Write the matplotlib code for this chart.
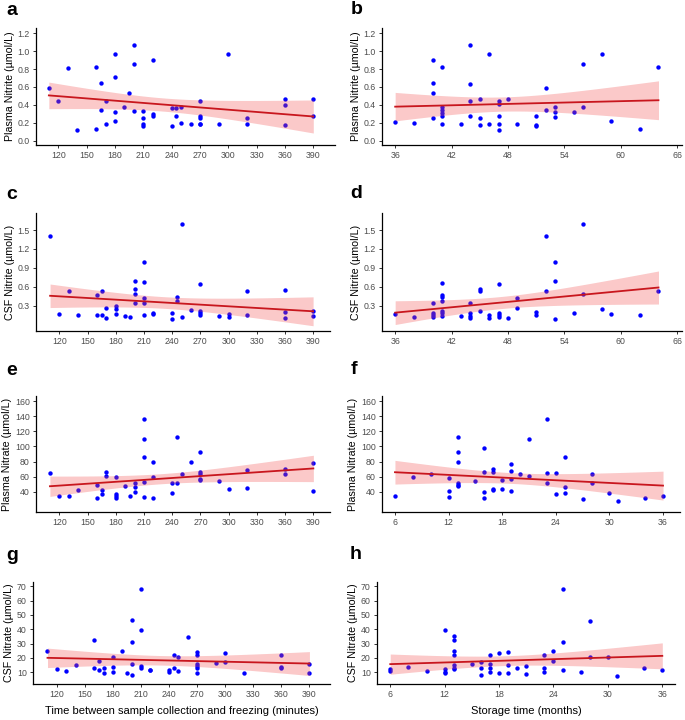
import numpy as np
import matplotlib
matplotlib.use('Agg')
import matplotlib.pyplot as plt

plt.rcParams['font.family'] = ['Liberation Sans', 'DejaVu Sans']

# ---- data ----
# a: plasma nitrite vs time to freezing
a_x = [110, 120, 130, 140, 160, 160, 165, 165, 170, 170, 180, 180, 180, 180, 190, 195,
       200, 200, 200, 210, 210, 210, 210, 220, 220, 220, 240, 240, 245, 245, 250, 250,
       260, 270, 270, 270, 270, 270, 290, 300, 320, 320, 360, 360, 360, 390, 390]
a_y = [0.59, 0.44, 0.81, 0.12, 0.82, 0.13, 0.64, 0.34, 0.19, 0.44, 0.97, 0.71, 0.32, 0.22,
       0.38, 0.53, 1.07, 0.86, 0.33, 0.33, 0.25, 0.19, 0.16, 0.90, 0.30, 0.28, 0.36, 0.16,
       0.36, 0.28, 0.38, 0.20, 0.18, 0.44, 0.28, 0.25, 0.19, 0.18, 0.18, 0.97, 0.25, 0.18,
       0.47, 0.40, 0.17, 0.47, 0.28]

# b: plasma nitrite vs storage time
b_x = [36, 38, 40, 40, 40, 40, 41, 41, 41, 41, 41, 41, 43, 44, 44, 44, 44, 45, 45, 45,
       46, 46, 47, 47, 47, 47, 47, 48, 49, 51, 51, 51, 52, 52, 53, 53, 53, 55, 56, 56,
       58, 59, 62, 64]
b_y = [0.21, 0.20, 0.90, 0.64, 0.53, 0.25, 0.82, 0.38, 0.34, 0.31, 0.28, 0.19, 0.18, 1.07,
       0.63, 0.44, 0.28, 0.47, 0.25, 0.17, 0.97, 0.18, 0.44, 0.41, 0.28, 0.18, 0.12, 0.47,
       0.19, 0.28, 0.17, 0.16, 0.59, 0.34, 0.37, 0.32, 0.26, 0.32, 0.86, 0.38, 0.97, 0.22,
       0.13, 0.82]

# c: CSF nitrite vs time to freezing
c_x = [110, 120, 130, 140, 160, 160, 165, 165, 170, 170, 180, 180, 180, 190, 195, 200,
       200, 200, 200, 210, 210, 210, 210, 210, 220, 220, 240, 240, 245, 245, 250, 250,
       260, 270, 270, 270, 270, 290, 300, 300, 320, 320, 360, 360, 360, 390, 390]
c_y = [1.40, 0.175, 0.53, 0.15, 0.47, 0.15, 0.53, 0.15, 0.11, 0.26, 0.30, 0.25, 0.175,
       0.14, 0.12, 0.69, 0.56, 0.48, 0.34, 1.00, 0.67, 0.43, 0.34, 0.16, 0.19, 0.17, 0.19,
       0.095, 0.44, 0.375, 1.59, 0.12, 0.23, 0.64, 0.22, 0.185, 0.15, 0.13, 0.17, 0.12,
       0.53, 0.16, 0.55, 0.20, 0.11, 0.22, 0.13]

# d: CSF nitrite vs storage time
d_x = [36, 38, 40, 40, 40, 40, 41, 41, 41, 41, 41, 41, 41, 43, 44, 44, 44, 44, 45, 45,
       45, 46, 46, 47, 47, 47, 47, 48, 49, 49, 51, 51, 52, 52, 53, 53, 53, 55, 56, 56,
       58, 59, 62, 64]
d_y = [0.175, 0.12, 0.35, 0.19, 0.15, 0.12, 0.66, 0.47, 0.44, 0.375, 0.22, 0.18, 0.14,
       0.13, 0.34, 0.18, 0.14, 0.11, 0.56, 0.53, 0.22, 0.16, 0.11, 0.64, 0.19, 0.15, 0.12,
       0.11, 0.43, 0.26, 0.20, 0.16, 1.40, 0.53, 1.00, 0.69, 0.095, 0.18, 1.59, 0.48, 0.25,
       0.17, 0.15, 0.53]

# e: plasma nitrate vs time to freezing
e_x = [110, 120, 130, 140, 160, 160, 165, 165, 170, 170, 180, 180, 180, 180, 190, 195,
       200, 200, 200, 210, 210, 210, 210, 210, 220, 220, 220, 240, 240, 245, 245, 250,
       260, 270, 270, 270, 270, 270, 290, 300, 320, 320, 360, 360, 390, 390]
e_y = [65, 34, 34, 42, 32, 49, 42, 37, 66, 61, 59, 37, 34, 31, 48, 34, 52, 46, 40, 136,
       110, 86, 53, 33, 79, 59, 32, 38, 52, 112, 51, 64, 80, 92, 66, 64, 57, 55, 54, 44,
       69, 45, 70, 64, 78, 41]

# f: plasma nitrate vs storage time
f_x = [6, 8, 10, 12, 12, 12, 13, 13, 13, 13, 13, 13, 15, 16, 16, 16, 16, 17, 17, 17, 17,
       18, 18, 19, 19, 19, 19, 20, 21, 21, 23, 23, 23, 24, 24, 25, 25, 25, 27, 28, 28,
       30, 31, 34, 36]
f_y = [34, 59, 64, 58, 41, 33, 112, 92, 79, 52, 49, 47, 54, 98, 66, 40, 32, 70, 66, 44,
       42, 55, 43, 77, 68, 57, 41, 64, 110, 61, 136, 65, 51, 65, 37, 86, 46, 38, 30, 64,
       52, 38, 28, 31, 34]

# g: CSF nitrate vs time to freezing
g_x = [110, 120, 130, 140, 160, 160, 165, 165, 170, 170, 180, 180, 180, 190, 195, 200,
       200, 200, 200, 210, 210, 210, 210, 220, 220, 240, 240, 245, 245, 250, 250, 260,
       270, 270, 270, 270, 270, 270, 290, 300, 300, 320, 360, 360, 360, 390, 390]
g_y = [24.8, 12, 11.1, 14.8, 32.6, 13.2, 11.6, 17.8, 13, 9.3, 21, 13.7, 10.4, 24.8, 9.5,
       31.3, 46.3, 15.5, 8.3, 39.6, 68, 14.4, 12.7, 11.8, 11.3, 11.8, 10.4, 22.2, 13, 21,
       11.1, 34.7, 24.3, 22.2, 16, 14.6, 13, 9.7, 16.4, 23.6, 17.4, 9.7, 22.2, 13.9, 12.7,
       15.5, 9.7]

# h: CSF nitrate vs storage time
h_x = [6, 6, 8, 10, 12, 12, 12, 12, 13, 13, 13, 13, 13, 13, 13, 15, 16, 16, 16, 17, 17,
       17, 17, 18, 18, 19, 19, 19, 20, 21, 21, 23, 23, 23, 24, 24, 25, 25, 25, 27, 28,
       28, 30, 31, 34, 36]
h_y = [12.3, 11, 13.5, 11, 39.5, 12, 10.6, 9.5, 35, 32.6, 25, 22, 15, 13, 12, 16, 17.4,
       13, 8.3, 22, 15.5, 13, 10, 23.4, 9.7, 24, 15.3, 9.7, 12.7, 14.4, 9, 22, 12.7, 10.4,
       24.8, 17.8, 67.8, 31, 11.8, 10.4, 46, 21, 21, 7.4, 13.2, 11.3]

labels = ['a', 'b', 'c', 'd', 'e', 'f', 'g', 'h']
ylabels = ['Plasma Nitrite (\u00b5mol/L)', 'Plasma Nitrite (\u00b5mol/L)',
           'CSF Nitrite (\u00b5mol/L)', 'CSF Nitrite (\u00b5mol/L)',
           'Plasma Nitrate (\u00b5mol/L)', 'Plasma Nitrate (\u00b5mol/L)',
           'CSF Nitrate (\u00b5mol/L)', 'CSF Nitrate (\u00b5mol/L)']
xlabel_left = 'Time between sample collection and freezing (minutes)'
xlabel_right = 'Storage time (months)'

time_ticks = [120, 150, 180, 210, 240, 270, 300, 330, 360, 390]
storage_ticks_bd = [36, 42, 48, 54, 60, 66]
storage_ticks_fh = [6, 12, 18, 24, 30, 36]
nitrite_ticks = [0.0, 0.2, 0.4, 0.6, 0.8, 1.0, 1.2]
csf_nitrite_ticks = [0.3, 0.6, 0.9, 1.2, 1.5]
nitrate_ticks = [40, 60, 80, 100, 120, 140, 160]
csf_nitrate_ticks = [10, 20, 30, 40, 50, 60, 70]

W, H = 685, 720
fig = plt.figure(figsize=(W / 100, H / 100), dpi=100)

# pixel boxes: left, right, top, bottom
boxes = [(36, 335, 28, 145), (382, 682, 28, 145),
         (36, 330, 213, 331), (382, 682, 213, 331),
         (36, 330, 396, 512), (382, 680, 396, 512),
         (33, 330, 582, 684), (377, 675, 582, 684)]
# panel letter positions (x, top) in pixels
letter_pos = [(6, 2), (351, 1), (6, 186), (350, 185),
              (6, 362), (351, 361), (6, 547), (350, 546)]
panels = [
    (a_x, a_y, (96.4, 413), (-0.05, 1.26), time_ticks, nitrite_ticks, '%.1f'),
    (b_x, b_y, (34.6, 66.5), (-0.05, 1.26), storage_ticks_bd, nitrite_ticks, '%.1f'),
    (c_x, c_y, (95, 408), (-0.10, 1.77), time_ticks, csf_nitrite_ticks, '%.1f'),
    (d_x, d_y, (34.6, 66.5), (-0.10, 1.77), storage_ticks_bd, csf_nitrite_ticks, '%.1f'),
    (e_x, e_y, (95.2, 407.7), (13, 167), time_ticks, nitrate_ticks, '%d'),
    (f_x, f_y, (4.55, 37.9), (13, 167), storage_ticks_fh, nitrate_ticks, '%d'),
    (g_x, g_y, (94.5, 412), (1.9, 72.9), time_ticks, csf_nitrate_ticks, '%d'),
    (h_x, h_y, (4.54, 37.4), (1.9, 72.9), storage_ticks_fh, csf_nitrate_ticks, '%d'),
]


def fit_band(x, y):
    x = np.asarray(x, float)
    y = np.asarray(y, float)
    n = len(x)
    slope, icpt = np.polyfit(x, y, 1)
    xs = np.linspace(x.min(), x.max(), 80)
    yhat = icpt + slope * xs
    resid = y - (icpt + slope * x)
    s = np.sqrt(np.sum(resid ** 2) / (n - 2))
    sxx = np.sum((x - x.mean()) ** 2)
    t = 1.96 + 2.4 / (n - 2)
    se = s * np.sqrt(1.0 / n + (xs - x.mean()) ** 2 / sxx)
    return xs, yhat, yhat - t * se, yhat + t * se


tick_grey = '#4D4D4D'
for i, (x, y, xl, yl, xt, yt, fmt) in enumerate(panels):
    l, r, t, b = boxes[i]
    ax = fig.add_axes([l / W, 1 - b / H, (r - l) / W, (b - t) / H])
    ax.scatter(x, y, s=10, color='#0000FF', linewidths=0, zorder=2)
    xs, yhat, lo, hi = fit_band(x, y)
    ax.fill_between(xs, lo, hi, color='#F24C4C', alpha=0.3, linewidth=0, zorder=3)
    ax.plot(xs, yhat, color='#C8161D', lw=1.3, zorder=4)
    ax.set_xlim(xl)
    ax.set_ylim(yl)
    ax.set_xticks(xt)
    ax.set_yticks(yt)
    ax.set_yticklabels([fmt % v for v in yt])
    for side in ['top', 'right']:
        ax.spines[side].set_visible(False)
    for side in ['left', 'bottom']:
        ax.spines[side].set_linewidth(0.9)
    ax.tick_params(labelsize=6.3, colors=tick_grey, length=2.5, width=0.7, pad=2)
    ax.tick_params(color='#333333')
    ax.set_ylabel(ylabels[i], fontsize=7.7, color='black', labelpad=2)
    if i == 6:
        ax.set_xlabel(xlabel_left, fontsize=8, color='black', labelpad=5)
    if i == 7:
        ax.set_xlabel(xlabel_right, fontsize=8, color='black', labelpad=5)
    lx, ly = letter_pos[i]
    fig.text(lx / W, 1 - ly / H, labels[i],
             fontsize=14, fontweight='bold', va='top', ha='left')

fig.savefig('out.png', dpi=100)
